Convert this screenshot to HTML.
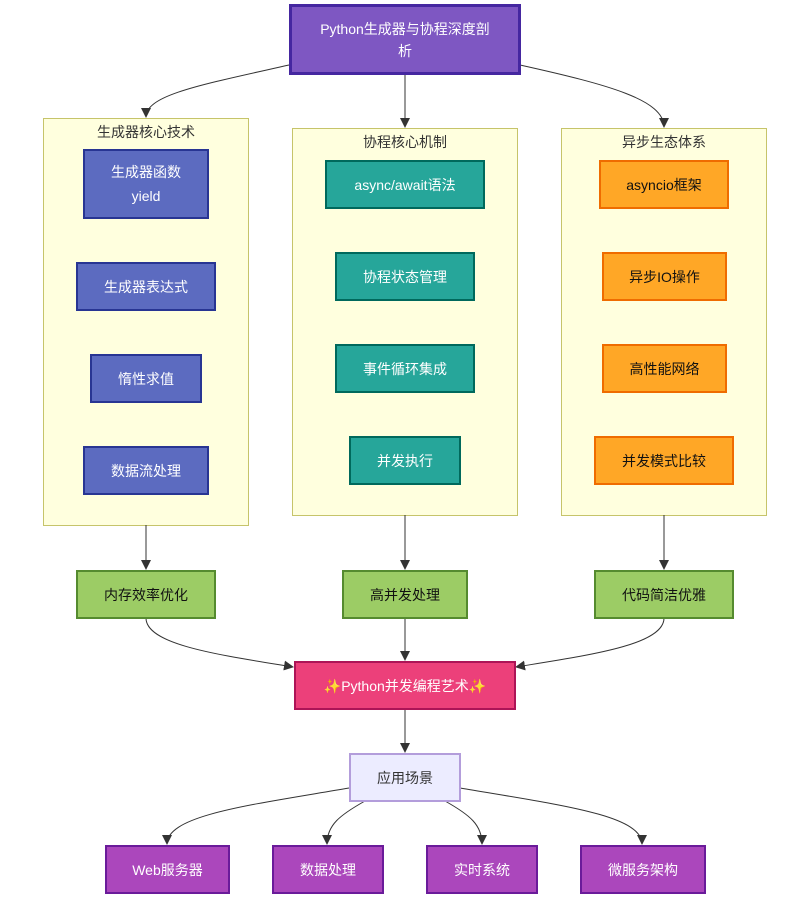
<!DOCTYPE html>
<html><head><meta charset="utf-8"><style>
body{margin:0;width:792px;height:901px;background:#fff;position:relative;overflow:hidden;font-family:"Liberation Sans","Noto Sans CJK SC",sans-serif;}
.n{position:absolute;box-sizing:border-box;display:flex;align-items:center;justify-content:center;text-align:center;font-size:14px;line-height:24px;}
.c{position:absolute;box-sizing:border-box;background:#ffffde;border:1px solid #c6c46a;font-size:14px;color:#333;text-align:center;}
.b{background:#5c6bc0;border:2px solid #283593;color:#fff}
.t{background:#26a69a;border:2px solid #00695c;color:#fff}
.o{background:#ffa726;border:2px solid #ef6c00;color:#111}
.g{background:#9ccc65;border:2px solid #558b2f;color:#111}
.p{background:#ab47bc;border:2px solid #6a1b9a;color:#fff}
svg{position:absolute;left:0;top:0}
</style></head><body>
<div class="c" style="left:43px;top:118px;width:206px;height:408px;padding-top:3px">生成器核心技术</div>
<div class="c" style="left:292px;top:128px;width:226px;height:388px;padding-top:3px">协程核心机制</div>
<div class="c" style="left:561px;top:128px;width:206px;height:388px;padding-top:3px">异步生态体系</div>
<svg width="792" height="901"><defs><marker id="a" markerWidth="10" markerHeight="10" refX="9" refY="5" orient="auto" markerUnits="userSpaceOnUse"><path d="M0,0L10,5L0,10z" fill="#333"/></marker></defs>
<g fill="none" stroke="#333" stroke-width="1" marker-end="url(#a)">
<path d="M289,65 C200,85 146,95 146,117"/>
<path d="M405,74 L405,127"/>
<path d="M520,65 C610,85 664,100 664,127"/>
<path d="M146,525 L146,569"/>
<path d="M405,515 L405,569"/>
<path d="M664,515 L664,569"/>
<path d="M146,618 C146,645 220,655 293,667"/>
<path d="M405,618 L405,660"/>
<path d="M664,618 C664,645 590,655 516,667"/>
<path d="M405,709 L405,752"/>
<path d="M349,788 C250,805 167,815 167,844"/>
<path d="M365,801 C340,815 327,825 327,844"/>
<path d="M445,801 C470,815 482,825 482,844"/>
<path d="M460,788 C560,805 642,815 642,844"/>
</g></svg>
<div class="n" style="left:289px;top:4px;width:232px;height:71px;background:#7e57c2;border:3px solid #4527a0;color:#fff;padding:0 27px;line-height:22px">Python生成器与协程深度剖析</div>
<div class="n b" style="left:83px;top:149px;width:126px;height:70px">生成器函数<br>yield</div>
<div class="n b" style="left:76px;top:262px;width:140px;height:49px">生成器表达式</div>
<div class="n b" style="left:90px;top:354px;width:112px;height:49px">惰性求值</div>
<div class="n b" style="left:83px;top:446px;width:126px;height:49px">数据流处理</div>
<div class="n t" style="left:325px;top:160px;width:160px;height:49px">async/await语法</div>
<div class="n t" style="left:335px;top:252px;width:140px;height:49px">协程状态管理</div>
<div class="n t" style="left:335px;top:344px;width:140px;height:49px">事件循环集成</div>
<div class="n t" style="left:349px;top:436px;width:112px;height:49px">并发执行</div>
<div class="n o" style="left:599px;top:160px;width:130px;height:49px">asyncio框架</div>
<div class="n o" style="left:602px;top:252px;width:125px;height:49px">异步IO操作</div>
<div class="n o" style="left:602px;top:344px;width:125px;height:49px">高性能网络</div>
<div class="n o" style="left:594px;top:436px;width:140px;height:49px">并发模式比较</div>
<div class="n g" style="left:76px;top:570px;width:140px;height:49px">内存效率优化</div>
<div class="n g" style="left:342px;top:570px;width:126px;height:49px">高并发处理</div>
<div class="n g" style="left:594px;top:570px;width:140px;height:49px">代码简洁优雅</div>
<div class="n" style="left:294px;top:661px;width:222px;height:49px;background:#ec407a;border:2px solid #ad1457;color:#fff">✨Python并发编程艺术✨</div>
<div class="n" style="left:349px;top:753px;width:112px;height:49px;background:#ececff;border:2px solid #b39ddb;color:#333">应用场景</div>
<div class="n p" style="left:105px;top:845px;width:125px;height:49px">Web服务器</div>
<div class="n p" style="left:272px;top:845px;width:112px;height:49px">数据处理</div>
<div class="n p" style="left:426px;top:845px;width:112px;height:49px">实时系统</div>
<div class="n p" style="left:580px;top:845px;width:126px;height:49px">微服务架构</div>
</body></html>
